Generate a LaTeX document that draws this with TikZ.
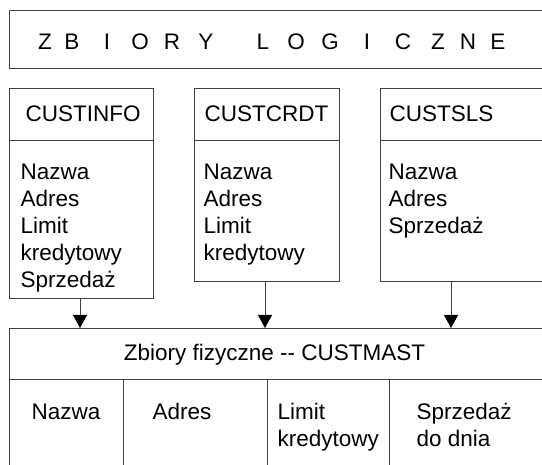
\documentclass[tikz,border=0pt]{standalone}
\usepackage{fontspec}
\setmainfont{Liberation Sans}
\usetikzlibrary{arrows.meta}
\begin{document}
\begin{tikzpicture}[x=1pt,y=1pt,
  frame/.style={draw=black!75, line width=0.9pt, inner sep=0pt, anchor=north west},
  rule/.style={draw=black!75, line width=0.9pt},
  txt/.style={inner sep=0pt, anchor=base west, font=\fontsize{22.5}{27}\selectfont},
  letter/.style={inner sep=0pt, anchor=base, font=\fontsize{22.5}{27}\selectfont},
  feed/.style={draw=black!75, line width=0.9pt, -{Triangle[length=13pt,width=14pt,color=black]}}]
\clip (0,0) rectangle (542,465);

% banner for the logical files
\node[frame, minimum width=560pt, minimum height=58pt] (banner) at (9,455) {};
\foreach \ch/\cx [count=\k] in {Z/45,B/72,I/107,O/140,R/172,Y/206,L/263,O/296,G/330,I/367,C/403,Z/438,N/468,E/498}
  \node[letter] (ch\k) at (\cx,415) {\ch};

% logical files
\node[frame, minimum width=144pt, minimum height=210pt] (info) at (9,377) {};
\node[frame, minimum width=145pt, minimum height=193pt] (crdt) at (194,377) {};
\node[frame, minimum width=200pt, minimum height=193pt] (sls) at (380,377) {};
\draw[rule] (info.west |- 0,325) -- (info.east |- 0,325);
\draw[rule] (crdt.west |- 0,325) -- (crdt.east |- 0,325);
\draw[rule] (sls.west |- 0,325) -- (sls.east |- 0,325);

\node[txt] (infoname) at (25.5,343) {CUSTINFO};
\node[txt] (crdtname) at (204.5,343) {CUSTCRDT};
\node[txt] (slsname) at (389.5,343) {CUSTSLS};

% field lists, one line per field
\foreach \f [count=\k] in {Nazwa,Adres,Limit,kredytowy,Sprzedaż}
  \node[txt] (infof\k) at (20.5,{312-27*\k}) {\f};
\foreach \f [count=\k] in {Nazwa,Adres,Limit,kredytowy}
  \node[txt] (crdtf\k) at (203.5,{312-27*\k}) {\f};
\foreach \f [count=\k] in {Nazwa,Adres,Sprzedaż}
  \node[txt] (slsf\k) at (388.5,{312-27*\k}) {\f};

% physical file
\node[frame, minimum width=560pt, minimum height=150pt] (phys) at (9,137) {};
\draw[rule] (phys.west |- 0,86) -- (phys.east |- 0,86);
\draw[rule] (123,86) -- (123,-10);
\draw[rule] (267,86) -- (267,-10);
\draw[rule] (389,86) -- (389,-10);
\node[letter] (physname) at (274.5,104) {Zbiory fizyczne -{}- CUSTMAST};
\node[txt] (p1) at (31.5,45) {Nazwa};
\node[txt] (p2) at (152.5,45) {Adres};
\node[txt] (p3a) at (277.5,45) {Limit};
\node[txt] (p3b) at (277.5,18) {kredytowy};
\node[txt] (p4a) at (416.5,45) {Sprzedaż};
\node[txt] (p4b) at (416.5,18) {do dnia};

% connectors
\coordinate (infoout) at (80,167);
\coordinate (crdtout) at (265,184);
\coordinate (slsout) at (451,184);
\draw[feed] (infoout) -- (infoout |- phys.north);
\draw[feed] (crdtout) -- (crdtout |- phys.north);
\draw[feed] (slsout) -- (slsout |- phys.north);
\end{tikzpicture}
\end{document}
